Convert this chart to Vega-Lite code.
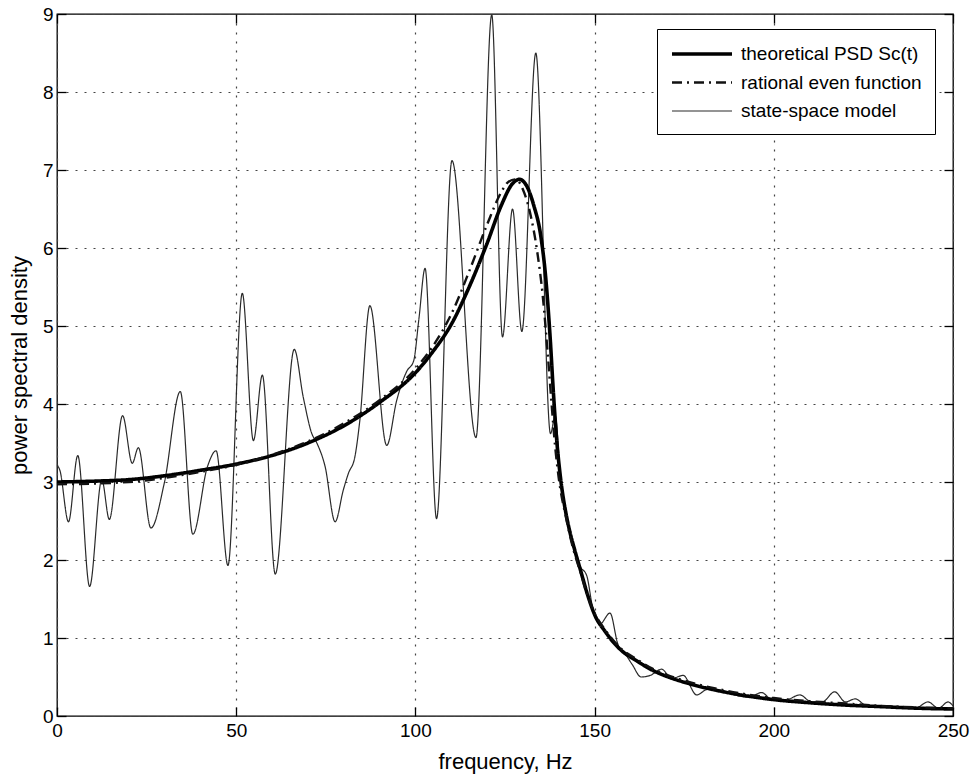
{
  "$schema": "https://vega.github.io/schema/vega-lite/v6.json",
  "width": 896,
  "height": 702,
  "autosize": {"type": "none"},
  "padding": {"left": 57, "top": 14, "right": 20, "bottom": 59},
  "background": "white",
  "config": {
    "font": "Liberation Sans",
    "view": {"stroke": "black", "strokeWidth": 1.3},
    "legend": {
      "orient": "none",
      "legendX": 600,
      "legendY": 15,
      "strokeColor": "black",
      "fillColor": "white",
      "padding": 13,
      "labelFontSize": 19,
      "labelColor": "black",
      "labelFont": "Liberation Sans",
      "symbolType": "M-1,0H5",
      "symbolSize": 400,
      "labelOffset": 47,
      "rowPadding": 7,
      "labelLimit": 400
    }
  },
  "data": {
    "values": [
      {"s": "state-space model", "f": 0, "v": 3.22},
      {"s": "state-space model", "f": 0.8, "v": 3.15},
      {"s": "state-space model", "f": 3.2, "v": 2.49},
      {"s": "state-space model", "f": 5.8, "v": 3.34},
      {"s": "state-space model", "f": 9.1, "v": 1.66},
      {"s": "state-space model", "f": 12.5, "v": 3.03},
      {"s": "state-space model", "f": 14.6, "v": 2.52},
      {"s": "state-space model", "f": 18.3, "v": 3.85},
      {"s": "state-space model", "f": 21.0, "v": 3.24},
      {"s": "state-space model", "f": 22.7, "v": 3.44},
      {"s": "state-space model", "f": 26.2, "v": 2.41},
      {"s": "state-space model", "f": 30.0, "v": 3.0},
      {"s": "state-space model", "f": 34.4, "v": 4.16},
      {"s": "state-space model", "f": 37.9, "v": 2.33},
      {"s": "state-space model", "f": 42.0, "v": 3.2},
      {"s": "state-space model", "f": 44.4, "v": 3.40},
      {"s": "state-space model", "f": 47.7, "v": 1.93},
      {"s": "state-space model", "f": 51.7, "v": 5.42},
      {"s": "state-space model", "f": 54.8, "v": 3.53},
      {"s": "state-space model", "f": 57.3, "v": 4.37},
      {"s": "state-space model", "f": 60.9, "v": 1.82},
      {"s": "state-space model", "f": 66.2, "v": 4.70},
      {"s": "state-space model", "f": 68.7, "v": 4.09},
      {"s": "state-space model", "f": 71.1, "v": 3.62},
      {"s": "state-space model", "f": 72.5, "v": 3.50},
      {"s": "state-space model", "f": 74.8, "v": 3.20},
      {"s": "state-space model", "f": 77.6, "v": 2.49},
      {"s": "state-space model", "f": 79.9, "v": 2.90},
      {"s": "state-space model", "f": 81.3, "v": 3.11},
      {"s": "state-space model", "f": 83.1, "v": 3.32},
      {"s": "state-space model", "f": 84.5, "v": 3.79},
      {"s": "state-space model", "f": 87.3, "v": 5.26},
      {"s": "state-space model", "f": 92.0, "v": 3.47},
      {"s": "state-space model", "f": 94.8, "v": 4.05},
      {"s": "state-space model", "f": 97.6, "v": 4.42},
      {"s": "state-space model", "f": 99.5, "v": 4.55},
      {"s": "state-space model", "f": 101.0, "v": 5.1},
      {"s": "state-space model", "f": 102.7, "v": 5.74},
      {"s": "state-space model", "f": 105.9, "v": 2.53},
      {"s": "state-space model", "f": 110.2, "v": 7.12},
      {"s": "state-space model", "f": 116.9, "v": 3.57},
      {"s": "state-space model", "f": 121.3, "v": 8.99},
      {"s": "state-space model", "f": 124.3, "v": 4.86},
      {"s": "state-space model", "f": 127.1, "v": 6.50},
      {"s": "state-space model", "f": 129.7, "v": 4.93},
      {"s": "state-space model", "f": 133.6, "v": 8.50},
      {"s": "state-space model", "f": 137.7, "v": 3.62},
      {"s": "state-space model", "f": 139.0, "v": 3.85},
      {"s": "state-space model", "f": 140.5, "v": 3.05},
      {"s": "state-space model", "f": 142.0, "v": 2.6},
      {"s": "state-space model", "f": 144.0, "v": 2.2},
      {"s": "state-space model", "f": 145.8, "v": 1.93},
      {"s": "state-space model", "f": 147.8, "v": 1.80},
      {"s": "state-space model", "f": 149.5, "v": 1.38},
      {"s": "state-space model", "f": 151.5, "v": 1.18},
      {"s": "state-space model", "f": 154.3, "v": 1.32},
      {"s": "state-space model", "f": 156.5, "v": 0.92},
      {"s": "state-space model", "f": 158.5, "v": 0.80},
      {"s": "state-space model", "f": 160.5, "v": 0.66},
      {"s": "state-space model", "f": 163.0, "v": 0.50},
      {"s": "state-space model", "f": 165.5, "v": 0.52},
      {"s": "state-space model", "f": 168.7, "v": 0.60},
      {"s": "state-space model", "f": 171.5, "v": 0.48},
      {"s": "state-space model", "f": 174.7, "v": 0.52},
      {"s": "state-space model", "f": 178.5, "v": 0.27},
      {"s": "state-space model", "f": 181.5, "v": 0.34},
      {"s": "state-space model", "f": 185.0, "v": 0.32},
      {"s": "state-space model", "f": 189.0, "v": 0.27},
      {"s": "state-space model", "f": 193.0, "v": 0.24},
      {"s": "state-space model", "f": 196.6, "v": 0.30},
      {"s": "state-space model", "f": 199.5, "v": 0.21},
      {"s": "state-space model", "f": 203.0, "v": 0.20},
      {"s": "state-space model", "f": 207.3, "v": 0.27},
      {"s": "state-space model", "f": 210.5, "v": 0.18},
      {"s": "state-space model", "f": 213.5, "v": 0.18},
      {"s": "state-space model", "f": 217.0, "v": 0.31},
      {"s": "state-space model", "f": 220.0, "v": 0.18},
      {"s": "state-space model", "f": 222.7, "v": 0.22},
      {"s": "state-space model", "f": 226.0, "v": 0.13},
      {"s": "state-space model", "f": 231.0, "v": 0.13},
      {"s": "state-space model", "f": 236.0, "v": 0.11},
      {"s": "state-space model", "f": 239.5, "v": 0.10},
      {"s": "state-space model", "f": 243.0, "v": 0.18},
      {"s": "state-space model", "f": 246.0, "v": 0.10},
      {"s": "state-space model", "f": 248.6, "v": 0.18},
      {"s": "state-space model", "f": 250.0, "v": 0.13},

      {"s": "theoretical PSD Sc(t)", "f": 0, "v": 3.00},
      {"s": "theoretical PSD Sc(t)", "f": 10, "v": 3.01},
      {"s": "theoretical PSD Sc(t)", "f": 20, "v": 3.03},
      {"s": "theoretical PSD Sc(t)", "f": 30, "v": 3.08},
      {"s": "theoretical PSD Sc(t)", "f": 40, "v": 3.15},
      {"s": "theoretical PSD Sc(t)", "f": 50, "v": 3.23},
      {"s": "theoretical PSD Sc(t)", "f": 60, "v": 3.34},
      {"s": "theoretical PSD Sc(t)", "f": 70, "v": 3.50},
      {"s": "theoretical PSD Sc(t)", "f": 80, "v": 3.72},
      {"s": "theoretical PSD Sc(t)", "f": 90, "v": 4.02},
      {"s": "theoretical PSD Sc(t)", "f": 100, "v": 4.40},
      {"s": "theoretical PSD Sc(t)", "f": 105, "v": 4.68},
      {"s": "theoretical PSD Sc(t)", "f": 110, "v": 5.02},
      {"s": "theoretical PSD Sc(t)", "f": 115, "v": 5.50},
      {"s": "theoretical PSD Sc(t)", "f": 120, "v": 6.06},
      {"s": "theoretical PSD Sc(t)", "f": 124, "v": 6.55},
      {"s": "theoretical PSD Sc(t)", "f": 127, "v": 6.82},
      {"s": "theoretical PSD Sc(t)", "f": 129, "v": 6.88},
      {"s": "theoretical PSD Sc(t)", "f": 131, "v": 6.80},
      {"s": "theoretical PSD Sc(t)", "f": 133, "v": 6.55},
      {"s": "theoretical PSD Sc(t)", "f": 135, "v": 6.15},
      {"s": "theoretical PSD Sc(t)", "f": 136.3, "v": 5.65},
      {"s": "theoretical PSD Sc(t)", "f": 137.6, "v": 4.85},
      {"s": "theoretical PSD Sc(t)", "f": 138.5, "v": 4.15},
      {"s": "theoretical PSD Sc(t)", "f": 139.5, "v": 3.50},
      {"s": "theoretical PSD Sc(t)", "f": 140.5, "v": 3.05},
      {"s": "theoretical PSD Sc(t)", "f": 142, "v": 2.60},
      {"s": "theoretical PSD Sc(t)", "f": 143, "v": 2.38},
      {"s": "theoretical PSD Sc(t)", "f": 144.5, "v": 2.12},
      {"s": "theoretical PSD Sc(t)", "f": 146, "v": 1.88},
      {"s": "theoretical PSD Sc(t)", "f": 148, "v": 1.56},
      {"s": "theoretical PSD Sc(t)", "f": 150, "v": 1.30},
      {"s": "theoretical PSD Sc(t)", "f": 153, "v": 1.08},
      {"s": "theoretical PSD Sc(t)", "f": 157, "v": 0.86},
      {"s": "theoretical PSD Sc(t)", "f": 162, "v": 0.70},
      {"s": "theoretical PSD Sc(t)", "f": 166, "v": 0.59},
      {"s": "theoretical PSD Sc(t)", "f": 170, "v": 0.51},
      {"s": "theoretical PSD Sc(t)", "f": 176, "v": 0.42},
      {"s": "theoretical PSD Sc(t)", "f": 185, "v": 0.32},
      {"s": "theoretical PSD Sc(t)", "f": 195, "v": 0.24},
      {"s": "theoretical PSD Sc(t)", "f": 200, "v": 0.21},
      {"s": "theoretical PSD Sc(t)", "f": 210, "v": 0.17},
      {"s": "theoretical PSD Sc(t)", "f": 220, "v": 0.14},
      {"s": "theoretical PSD Sc(t)", "f": 230, "v": 0.12},
      {"s": "theoretical PSD Sc(t)", "f": 240, "v": 0.10},
      {"s": "theoretical PSD Sc(t)", "f": 250, "v": 0.09},

      {"s": "rational even function", "f": 0, "v": 2.97},
      {"s": "rational even function", "f": 20, "v": 3.00},
      {"s": "rational even function", "f": 40, "v": 3.13},
      {"s": "rational even function", "f": 50, "v": 3.22},
      {"s": "rational even function", "f": 60, "v": 3.35},
      {"s": "rational even function", "f": 70, "v": 3.52},
      {"s": "rational even function", "f": 80, "v": 3.75},
      {"s": "rational even function", "f": 90, "v": 4.05},
      {"s": "rational even function", "f": 100, "v": 4.45},
      {"s": "rational even function", "f": 105, "v": 4.75},
      {"s": "rational even function", "f": 110, "v": 5.15},
      {"s": "rational even function", "f": 115, "v": 5.70},
      {"s": "rational even function", "f": 120, "v": 6.30},
      {"s": "rational even function", "f": 124, "v": 6.72},
      {"s": "rational even function", "f": 126, "v": 6.85},
      {"s": "rational even function", "f": 128, "v": 6.88},
      {"s": "rational even function", "f": 130, "v": 6.75},
      {"s": "rational even function", "f": 132, "v": 6.45},
      {"s": "rational even function", "f": 134, "v": 5.95},
      {"s": "rational even function", "f": 135.5, "v": 5.40},
      {"s": "rational even function", "f": 137, "v": 4.60},
      {"s": "rational even function", "f": 138, "v": 4.00},
      {"s": "rational even function", "f": 139, "v": 3.45},
      {"s": "rational even function", "f": 140, "v": 3.05},
      {"s": "rational even function", "f": 142, "v": 2.55},
      {"s": "rational even function", "f": 144, "v": 2.15},
      {"s": "rational even function", "f": 146, "v": 1.85},
      {"s": "rational even function", "f": 148, "v": 1.55},
      {"s": "rational even function", "f": 150, "v": 1.32},
      {"s": "rational even function", "f": 153, "v": 1.10},
      {"s": "rational even function", "f": 157, "v": 0.88},
      {"s": "rational even function", "f": 162, "v": 0.72},
      {"s": "rational even function", "f": 166, "v": 0.61},
      {"s": "rational even function", "f": 170, "v": 0.53},
      {"s": "rational even function", "f": 176, "v": 0.44},
      {"s": "rational even function", "f": 185, "v": 0.34},
      {"s": "rational even function", "f": 195, "v": 0.26},
      {"s": "rational even function", "f": 200, "v": 0.23},
      {"s": "rational even function", "f": 210, "v": 0.19},
      {"s": "rational even function", "f": 220, "v": 0.16},
      {"s": "rational even function", "f": 230, "v": 0.13},
      {"s": "rational even function", "f": 240, "v": 0.11},
      {"s": "rational even function", "f": 250, "v": 0.10}
    ]
  },
  "layer": [
    {
      "mark": {"type": "line", "interpolate": "monotone", "clip": true},
      "encoding": {
        "x": {
          "field": "f", "type": "quantitative",
          "scale": {"domain": [0, 250], "nice": false, "zero": false},
          "axis": {
            "orient": "bottom",
            "values": [0, 50, 100, 150, 200, 250],
            "title": "frequency, Hz",
            "titleFontSize": 22, "titleFontWeight": "normal", "titleColor": "black", "titlePadding": 11,
            "labelFontSize": 19, "labelColor": "black", "labelPadding": 14, "labelFlush": false,
            "tickSize": -9, "tickColor": "black", "tickWidth": 1.3,
            "domain": false,
            "grid": true, "gridDash": [2, 7], "gridColor": "#444", "gridWidth": 1.2
          }
        },
        "y": {
          "field": "v", "type": "quantitative",
          "scale": {"domain": [0, 9], "nice": false},
          "axis": {
            "orient": "left",
            "values": [0, 1, 2, 3, 4, 5, 6, 7, 8, 9],
            "title": "power spectral density",
            "titleFontSize": 22, "titleFontWeight": "normal", "titleColor": "black", "titlePadding": 11,
            "labelFontSize": 19, "labelColor": "black", "labelPadding": 13, "labelFlush": false,
            "tickSize": -9, "tickColor": "black", "tickWidth": 1.3,
            "domain": false,
            "grid": true, "gridDash": [2, 7], "gridColor": "#444", "gridWidth": 1.2
          }
        },
        "color": {
          "field": "s", "type": "nominal",
          "scale": {"domain": ["theoretical PSD Sc(t)", "rational even function", "state-space model"], "range": ["#000000", "#111111", "#2a2a2a"]},
          "legend": {"title": null}
        },
        "strokeDash": {
          "field": "s", "type": "nominal",
          "scale": {"domain": ["theoretical PSD Sc(t)", "rational even function", "state-space model"], "range": [[1, 0], [10, 5, 2, 5], [1, 0]]},
          "legend": {"title": null}
        },
        "strokeWidth": {
          "field": "s", "type": "nominal",
          "scale": {"domain": ["theoretical PSD Sc(t)", "rational even function", "state-space model"], "range": [3.6, 1.2]},
          "legend": {"title": null}
        }
      }
    },
    {
      "mark": {"type": "line", "opacity": 0},
      "encoding": {
        "x": {
          "field": "f", "type": "quantitative",
          "axis": {"orient": "top", "values": [0, 50, 100, 150, 200, 250], "labels": false, "title": null, "tickSize": -9, "tickColor": "black", "tickWidth": 1.3, "domain": false, "grid": false}
        },
        "y": {
          "field": "v", "type": "quantitative",
          "axis": {"orient": "right", "values": [0, 1, 2, 3, 4, 5, 6, 7, 8, 9], "labels": false, "title": null, "tickSize": -9, "tickColor": "black", "tickWidth": 1.3, "domain": false, "grid": false}
        }
      }
    }
  ]
}
